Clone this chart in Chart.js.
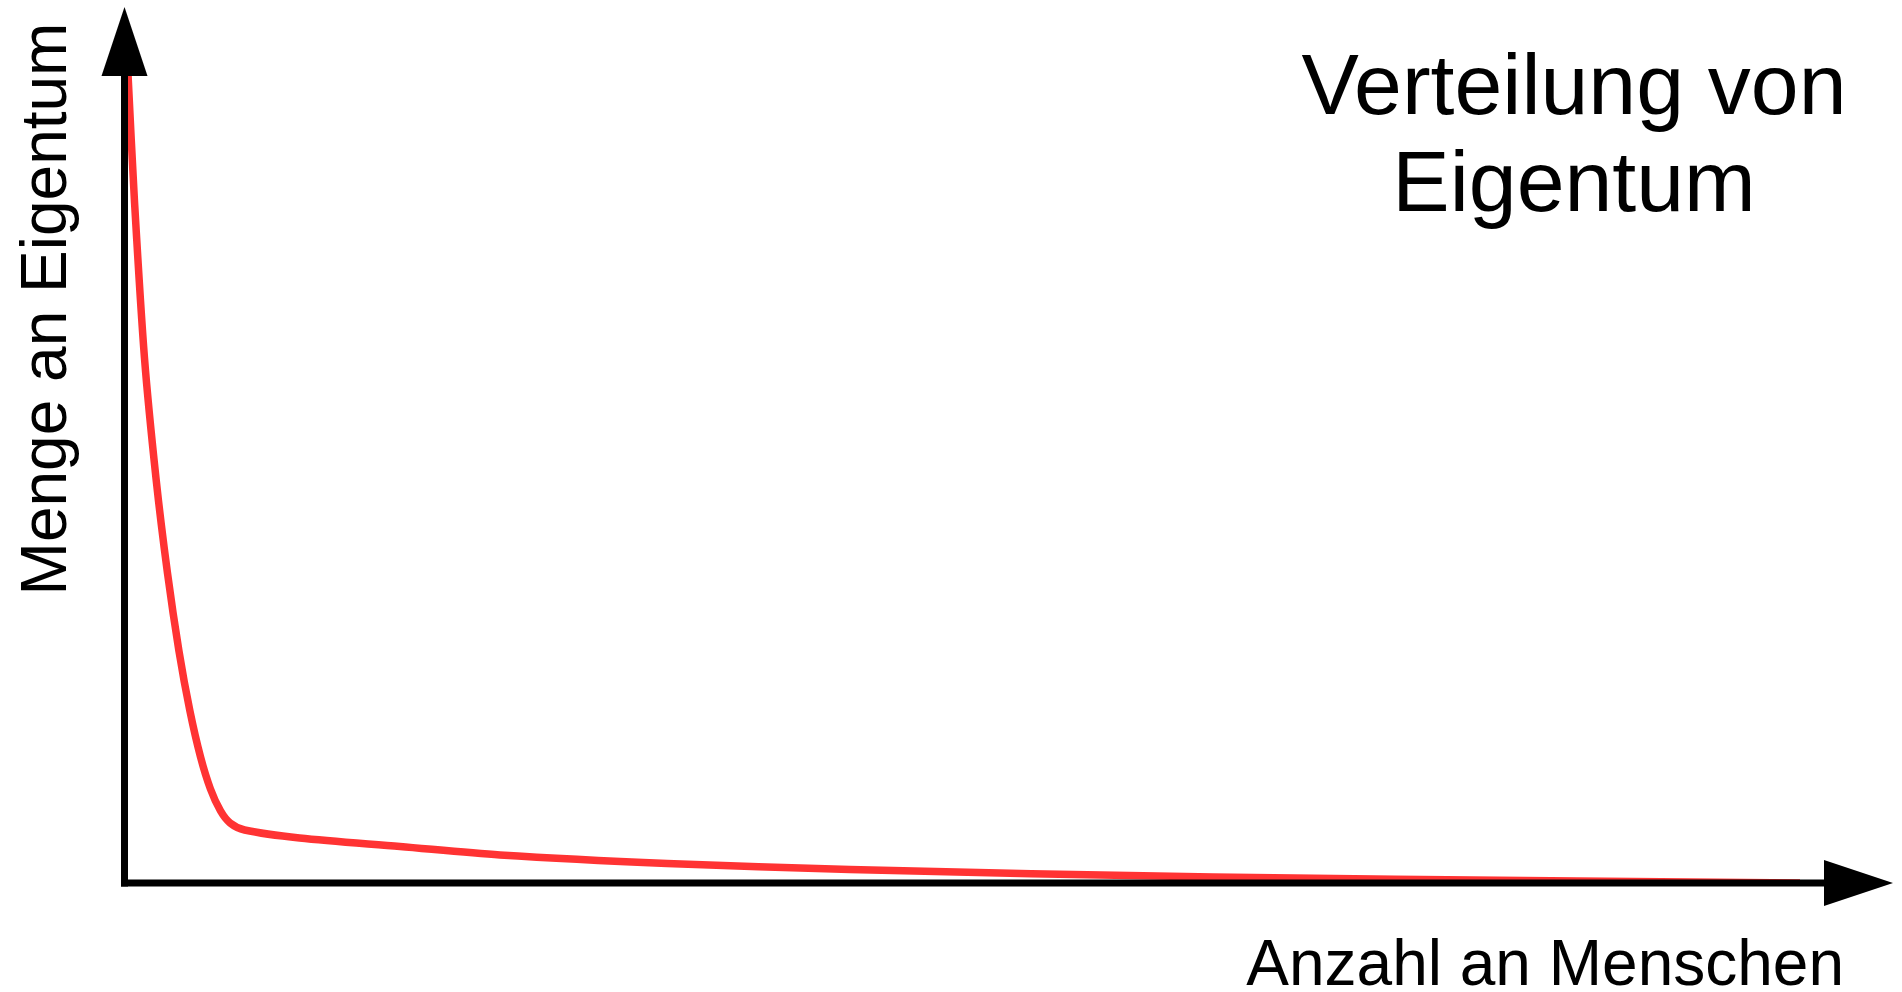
<!DOCTYPE html>
<html lang="de">
<head>
    <meta charset="UTF-8">
    <title>Verteilung von Eigentum</title>
    <script src="https://cdn.jsdelivr.net/npm/chart.js"></script>
    <style>
        body, html {
            margin: 0;
            padding: 0;
            background: #fff;
            font-family: "Liberation Sans", Arial, sans-serif;
            color: #000;
            overflow: hidden;
        }
        .wrap {
            position: relative;
            width: 1902px;
            height: 992px;
        }
        .label {
            position: absolute;
            white-space: nowrap;
        }
        #title {
            left: 1174px;
            top: 36px;
            width: 800px;
            text-align: center;
            font-size: 86px;
            line-height: 97px;
        }
        #xTitle {
            right: 58px;
            top: 931px;
            font-size: 64px;
            line-height: 64px;
        }
        #yTitle {
            left: -306px;
            top: 277px;
            width: 700px;
            text-align: center;
            font-size: 64px;
            line-height: 64px;
            transform: rotate(-90deg);
        }
    </style>
</head>
<body>
<div class="wrap">
    <canvas id="chart" width="1902" height="992"></canvas>
    <div id="title" class="label">Verteilung von<br>Eigentum</div>
    <div id="xTitle" class="label">Anzahl an Menschen</div>
    <div id="yTitle" class="label">Menge an Eigentum</div>
</div>

<script>
    // Anzahl an Menschen (x) und Menge an Eigentum (y)
    const people = [0.2, 0.57, 1.13, 1.78, 2.43, 3.08, 3.7, 4.3, 4.86, 5.43, 5.97, 6.79, 9.9, 15.58, 21.23, 30.68, 41.02, 61.55, 82.13, 94.74];
    const wealth = [92.24, 77.63, 59.93, 46.23, 35.39, 26.48, 19.63, 14.38, 10.73, 8.22, 6.85, 6.05, 5.14, 4.17, 3.2, 2.23, 1.54, 0.68, 0.23, 0.0];

    const points = people.map((x, i) => ({ x: x, y: wealth[i] }));

    // Achsen mit Pfeilspitzen
    const arrowAxes = {
        id: 'arrowAxes',
        afterDatasetsDraw(chart) {
            const ctx = chart.ctx;
            const x = chart.scales.x;
            const y = chart.scales.y;
            const x0 = x.getPixelForValue(0);
            const y0 = y.getPixelForValue(0);
            const xEnd = x.getPixelForValue(x.max);
            const yEnd = y.getPixelForValue(y.max);
            const head = 69;
            const half = 23;

            ctx.save();
            ctx.strokeStyle = '#000';
            ctx.fillStyle = '#000';
            ctx.lineWidth = 7;
            ctx.lineCap = 'butt';

            ctx.beginPath();
            ctx.moveTo(x0, y0 + 3.5);
            ctx.lineTo(x0, yEnd + head);
            ctx.stroke();

            ctx.beginPath();
            ctx.moveTo(x0 - 3.5, y0);
            ctx.lineTo(xEnd - head, y0);
            ctx.stroke();

            ctx.beginPath();
            ctx.moveTo(x0, yEnd);
            ctx.lineTo(x0 + half, yEnd + head);
            ctx.lineTo(x0 - half, yEnd + head);
            ctx.closePath();
            ctx.fill();

            ctx.beginPath();
            ctx.moveTo(xEnd, y0);
            ctx.lineTo(xEnd - head, y0 - half);
            ctx.lineTo(xEnd - head, y0 + half);
            ctx.closePath();
            ctx.fill();
            ctx.restore();
        }
    };

    new Chart(document.getElementById('chart').getContext('2d'), {
        type: 'line',
        data: {
            datasets: [{
                data: points,
                borderColor: '#ff3333',
                borderWidth: 7.5,
                borderJoinStyle: 'round',
                pointRadius: 0,
                fill: false,
                tension: 0.3
            }]
        },
        options: {
            responsive: false,
            animation: false,
            layout: {
                padding: { left: 124.5, right: 9, top: 7, bottom: 109 }
            },
            plugins: {
                legend: { display: false },
                tooltip: { enabled: false }
            },
            scales: {
                x: { type: 'linear', min: 0, max: 100, display: false },
                y: { type: 'linear', min: 0, max: 100, display: false }
            }
        },
        plugins: [arrowAxes]
    });
</script>
</body>
</html>
